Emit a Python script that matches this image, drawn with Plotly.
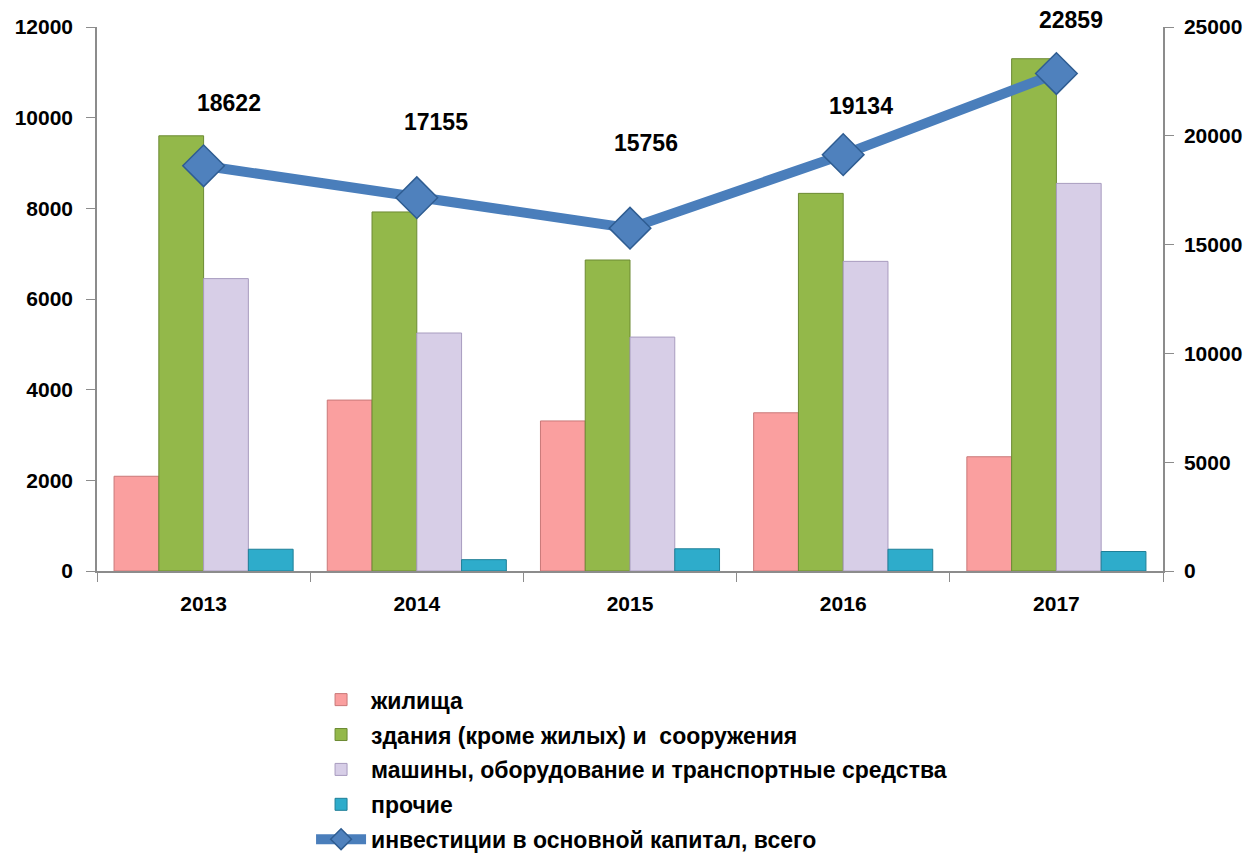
import plotly.graph_objects as go

years = ["2013", "2014", "2015", "2016", "2017"]
housing = [2090, 3770, 3310, 3490, 2520]
buildings = [9600, 7920, 6860, 8330, 11300]
machinery = [6450, 5250, 5160, 6830, 8550]
other = [480, 250, 490, 480, 430]
total = [18622, 17155, 15756, 19134, 22859]

names = [
    "жилища",
    "здания (кроме жилых) и  сооружения",
    "машины, оборудование и транспортные средства",
    "прочие",
    "инвестиции в основной капитал, всего",
]

FONT = "Liberation Sans Narrow, Arial Narrow, Liberation Sans, Arial, sans-serif"
bar_colors = ["#FA9F9F", "#93B84A", "#D7CEE7", "#2EACCB"]
bar_lines = ["#C97878", "#6C8A33", "#A89CBF", "#1F7F97"]
label_dy = [63, 76, 85, 49, 54]
label_dx = [25, 19, 16, 18, 15]

xpos = list(range(len(years)))

fig = go.Figure()
for i, vals in enumerate([housing, buildings, machinery, other]):
    fig.add_trace(go.Bar(
        x=xpos, y=vals, name=names[i],
        marker=dict(color=bar_colors[i], line=dict(color=bar_lines[i], width=1)),
        legendgroup=f"g{i}", yaxis="y",
    ))

fig.add_trace(go.Scatter(
    x=xpos, y=total, name=names[4], yaxis="y2", mode="lines+markers",
    line=dict(color="#4A7EBB", width=10),
    marker=dict(symbol="diamond", size=32, color="#4F81BD",
                line=dict(color="#2F5D92", width=1.5)),
    legendgroup="g4",
))

for i, v in enumerate(total):
    fig.add_annotation(x=xpos[i], y=v, xref="x", yref="y2", text=f"<b>{v}</b>",
                       showarrow=False, yshift=label_dy[i], xshift=label_dx[i],
                       font=dict(family=FONT, size=23, color="black"))

def axis_common():
    return dict(showline=True, linecolor="#8C8C8C", linewidth=1.5, showgrid=False,
                zeroline=False, ticks="outside", tickcolor="#8C8C8C", ticklen=9,
                automargin=False,
                tickfont=dict(family=FONT, size=21, color="black", weight="bold"))

xa = axis_common()
xa.update(ticks="", range=[-0.5, len(years) - 0.5], tickvals=xpos, ticktext=years,
          ticklabelstandoff=13,
          minor=dict(ticks="outside", tick0=-0.5, dtick=1, ticklen=9,
                     tickcolor="#8C8C8C", showgrid=False))

fig.update_layout(
    width=1245, height=845,
    margin=dict(l=89, r=90, t=19, b=282, autoexpand=False),
    plot_bgcolor="white", paper_bgcolor="white",
    barmode="group", bargap=0.16, bargroupgap=0,
    xaxis=xa,
    yaxis=dict(**axis_common(), range=[0, 12000], dtick=2000, tickformat="d",
               ticklabelstandoff=9),
    yaxis2=dict(**axis_common(), range=[0, 25000], dtick=5000, tickformat="d",
                overlaying="y", side="right", ticklabelstandoff=6),
    legend=dict(x=0.2008, y=-0.197, xanchor="left", yanchor="top",
                orientation="v", traceorder="grouped", tracegroupgap=2,
                itemwidth=50,
                font=dict(family=FONT, size=23, color="black", weight="bold")),
    showlegend=True,
)

fig.write_html("out.html")
